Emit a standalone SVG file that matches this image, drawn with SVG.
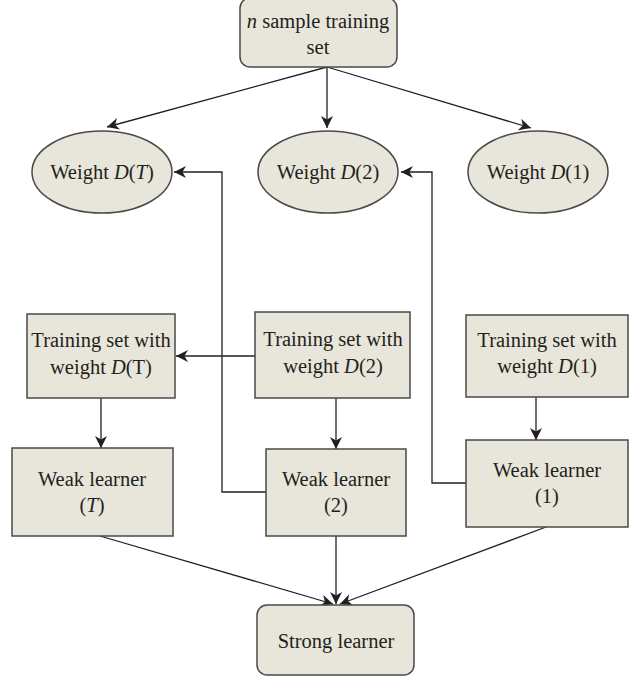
<svg xmlns="http://www.w3.org/2000/svg" width="630" height="679" viewBox="0 0 630 679">
<style>
.n{fill:#e8e5da;stroke:#4a4a4a;stroke-width:1.5}
.t{font-family:"Liberation Serif","Times New Roman",serif;font-size:20.5px;fill:#231f20;text-anchor:middle}
.c{fill:none;stroke:#231f20;stroke-width:1.3}
</style>
<defs>
<marker id="a" viewBox="0 0 10 10" refX="10" refY="5" markerWidth="12" markerHeight="12" markerUnits="userSpaceOnUse" orient="auto">
<path d="M0,0 L10,5 L0,10 L3,5 z" fill="#231f20"/>
</marker>
</defs>
<g id="connectors">
<line class="c" x1="327" y1="67" x2="107" y2="127" marker-end="url(#a)"/>
<line class="c" x1="327" y1="67" x2="327" y2="128" marker-end="url(#a)"/>
<line class="c" x1="327" y1="67" x2="531" y2="128" marker-end="url(#a)"/>
<polyline class="c" points="266,492 222,492 222,172 174,172" marker-end="url(#a)"/>
<polyline class="c" points="466,483 432,483 432,172 401,172" marker-end="url(#a)"/>
<line class="c" x1="255" y1="356" x2="176" y2="356" marker-end="url(#a)"/>
<line class="c" x1="101" y1="398" x2="101" y2="448" marker-end="url(#a)"/>
<line class="c" x1="336" y1="398" x2="336" y2="449" marker-end="url(#a)"/>
<line class="c" x1="536" y1="397" x2="536" y2="440" marker-end="url(#a)"/>
<line class="c" x1="336" y1="536" x2="336" y2="604" marker-end="url(#a)"/>
<line class="c" x1="100" y1="536" x2="333" y2="604" marker-end="url(#a)"/>
<line class="c" x1="546" y1="527" x2="340" y2="604" marker-end="url(#a)"/>
</g>
<g id="sample">
<rect class="n" x="240" y="-2" width="157" height="69" rx="10"/>
<text class="t" x="318" y="28"><tspan font-style="italic">n</tspan> sample training</text>
<text class="t" x="318" y="54">set</text>
</g>
<g id="wT">
<ellipse class="n" cx="102" cy="172" rx="70" ry="41"/>
<text class="t" x="102" y="179">Weight <tspan font-style="italic">D</tspan>(<tspan font-style="italic">T</tspan>)</text>
</g>
<g id="w2">
<ellipse class="n" cx="328" cy="172" rx="70" ry="41"/>
<text class="t" x="328" y="179">Weight <tspan font-style="italic">D</tspan>(2)</text>
</g>
<g id="w1">
<ellipse class="n" cx="538" cy="172" rx="70" ry="41"/>
<text class="t" x="538" y="179">Weight <tspan font-style="italic">D</tspan>(1)</text>
</g>
<g id="tsT">
<rect class="n" x="27" y="314" width="148" height="84"/>
<text class="t" x="101" y="347">Training set with</text>
<text class="t" x="101" y="374">weight <tspan font-style="italic">D</tspan>(T)</text>
</g>
<g id="ts2">
<rect class="n" x="255" y="312" width="155" height="86"/>
<text class="t" x="333" y="346">Training set with</text>
<text class="t" x="333" y="373">weight <tspan font-style="italic">D</tspan>(2)</text>
</g>
<g id="ts1">
<rect class="n" x="466" y="315" width="162" height="82"/>
<text class="t" x="547" y="347">Training set with</text>
<text class="t" x="547" y="373">weight <tspan font-style="italic">D</tspan>(1)</text>
</g>
<g id="wlT">
<rect class="n" x="12" y="448" width="161" height="88"/>
<text class="t" x="92" y="486">Weak learner</text>
<text class="t" x="92" y="512">(<tspan font-style="italic">T</tspan>)</text>
</g>
<g id="wl2">
<rect class="n" x="266" y="449" width="140" height="87"/>
<text class="t" x="336" y="486">Weak learner</text>
<text class="t" x="336" y="512">(2)</text>
</g>
<g id="wl1">
<rect class="n" x="466" y="440" width="162" height="87"/>
<text class="t" x="547" y="477">Weak learner</text>
<text class="t" x="547" y="503">(1)</text>
</g>
<g id="strong">
<rect class="n" x="257" y="605" width="157" height="70" rx="10"/>
<text class="t" x="336" y="648">Strong learner</text>
</g>
</svg>
